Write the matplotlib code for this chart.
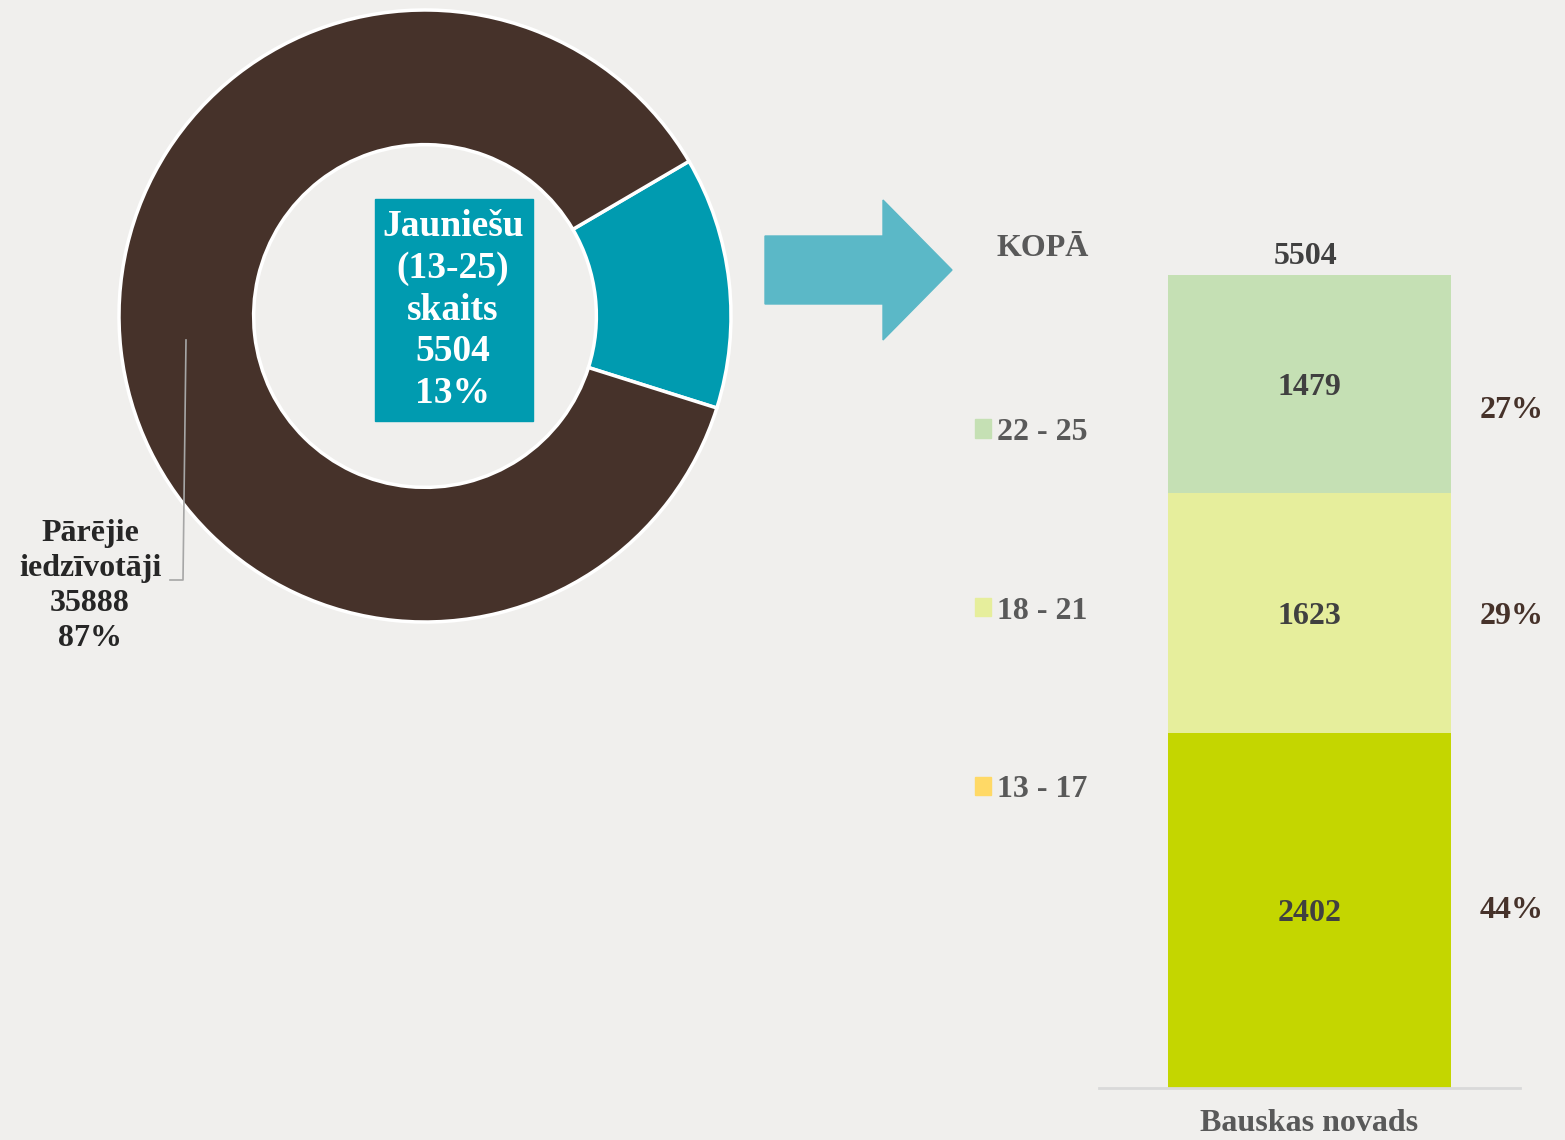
import matplotlib.pyplot as plt
from matplotlib.patches import Rectangle, Polygon, Patch
from matplotlib.lines import Line2D

plt.rcParams['font.family'] = ['Liberation Serif', 'DejaVu Serif']
plt.rcParams['font.weight'] = 'bold'

# data
pie_labels = ['Jauniešu (13-25) skaits', 'Pārējie iedzīvotāji']
pie_values = [5504, 35888]
pie_pct = [13, 87]

region = 'Bauskas novads'
groups = ['13 - 17', '18 - 21', '22 - 25']
group_values = [2402, 1623, 1479]
group_pct = [44, 29, 27]
total = 5504

bg = '#F0EFED'
brown = '#46322A'
teal = '#009BB0'
bar_colors = ['#C4D600', '#E6EE9C', '#C5E0B4']
legend_colors = ['#FFD966', '#E6EE9C', '#C5E0B4']
grey_txt = '#595959'
dark_txt = '#404040'

W, H = 1565, 1140
fig = plt.figure(figsize=(W / 100, H / 100), dpi=100, facecolor=bg)

def fx(px):
    return px / W

def fy(py):
    return 1 - py / H

# donut
ax = fig.add_axes([fx(119), fy(622), 612 / W, 612 / H])
ax.set_facecolor(bg)
ax.pie(pie_values, colors=[teal, brown], startangle=-17.5, radius=1,
       wedgeprops=dict(width=0.44, edgecolor='white', linewidth=2.5))
ax.set_xlim(-1, 1)
ax.set_ylim(-1, 1)
ax.set_aspect('equal')
ax.axis('off')

# centre label box
fig.patches.append(Rectangle((fx(375), fy(421)), 158 / W, 222 / H,
                             transform=fig.transFigure, color=teal, zorder=3))
fig.text(fx(453), fy(310), 'Jauniešu\n(13-25)\nskaits\n%d\n%d%%' % (pie_values[0], pie_pct[0]),
         ha='center', va='center', color='white', fontsize=27, linespacing=1.24, zorder=4)

# other label with leader line
fig.text(fx(90), fy(586), 'Pārējie\niedzīvotāji\n%d\n%d%%' % (pie_values[1], pie_pct[1]),
         ha='center', va='center', color='#262626', fontsize=23, linespacing=1.27)
fig.lines.append(Line2D([fx(186), fx(183), fx(170)], [fy(340), fy(580), fy(580)],
                        transform=fig.transFigure, color='#A6A6A6', linewidth=1.2))

# arrow
arrow_px = [(765, 236), (883, 236), (883, 200), (952, 270), (883, 340), (883, 304), (765, 304)]
fig.patches.append(Polygon([(fx(x), fy(y)) for x, y in arrow_px], closed=True,
                           transform=fig.transFigure, color='#5BB8C7'))

# stacked bar
bx = fig.add_axes([fx(1099), fy(1088), 421 / W, 888 / H])
bx.set_facecolor(bg)
bottom = 0
pct_offset = [0, -20, -180]
for val, col, pct, off in zip(group_values, bar_colors, group_pct, pct_offset):
    bx.bar(0, val, bottom=bottom, width=0.67, color=col)
    mid = bottom + val / 2
    bx.text(0, mid - 20, str(val), ha='center', va='center', color=dark_txt, fontsize=23)
    bx.text(0.48, mid + off, '%d%%' % pct, ha='center', va='center', color=brown, fontsize=23)
    bottom += val
bx.text(-0.01, total + 30, str(total), ha='center', va='bottom', color=dark_txt, fontsize=23)
bx.set_xlim(-0.5, 0.5)
bx.set_ylim(0, total * 888 / 813)
bx.set_xticks([0])
bx.set_xticklabels([region], color=grey_txt, fontsize=23)
bx.tick_params(axis='x', length=0, pad=15)
bx.set_yticks([])
for s in ['top', 'right', 'left']:
    bx.spines[s].set_visible(False)
bx.spines['bottom'].set_color('#D9D9D9')
bx.spines['bottom'].set_linewidth(2)

# legend
fig.text(fx(1043), fy(249), 'KOPĀ', ha='center', va='center', color=grey_txt, fontsize=23)
handles = [Patch(color=c, label=g) for g, c in zip(groups[::-1], legend_colors[::-1])]
fig.legend(handles=handles, loc='upper left', bbox_to_anchor=(fx(946), fy(389)),
           frameon=False, fontsize=23, labelspacing=4.69, handlelength=0.5,
           handleheight=0.5, handletextpad=0.2, labelcolor=grey_txt)

fig.savefig('out.png', dpi=100, facecolor=bg)
